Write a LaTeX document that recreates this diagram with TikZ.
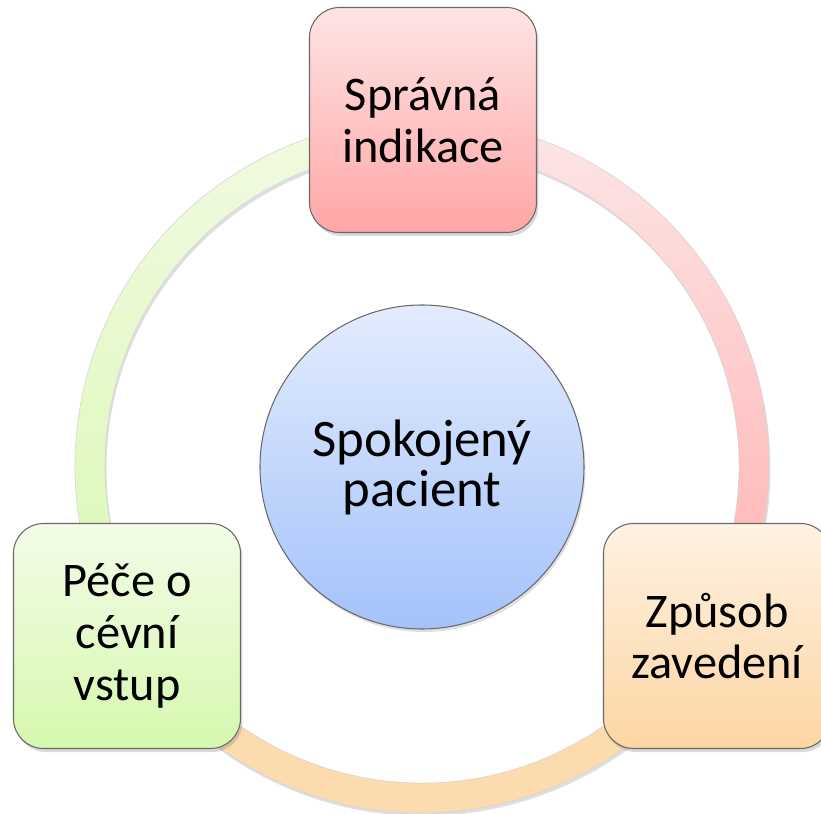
\documentclass[tikz,border=0pt]{standalone}
\usepackage{fontspec}
\setmainfont{Carlito}
\usetikzlibrary{shapes,arrows,positioning,shadows,calc}
\definecolor{redtop}{RGB}{255,228,228}
\definecolor{redbot}{RGB}{255,166,166}
\definecolor{orangetop}{RGB}{254,242,226}
\definecolor{orangebot}{RGB}{253,213,163}
\definecolor{greentop}{RGB}{243,252,232}
\definecolor{greenbot}{RGB}{214,248,174}
\definecolor{bluetop}{RGB}{227,236,253}
\definecolor{bluebot}{RGB}{164,194,250}
\definecolor{ringred}{RGB}{255,176,176}
\definecolor{ringredlight}{RGB}{253,230,230}
\definecolor{ringorange}{RGB}{252,220,174}
\definecolor{ringgreen}{RGB}{218,248,180}
\definecolor{ringgreenlight}{RGB}{241,250,225}
\definecolor{edge}{RGB}{105,105,105}

\begin{document}
\begin{tikzpicture}[
    box/.style={draw=edge, line width=0.6pt, rounded corners=0.6cm, minimum width=4.54cm, minimum height=4.5cm, align=center, font=\fontsize{27.5}{29.5}\selectfont, drop shadow={opacity=0.3, shadow xshift=0.04cm, shadow yshift=-0.07cm}},
    ring/.style={draw=gray!35, line width=0.3pt, drop shadow={opacity=0.25, shadow xshift=0.03cm, shadow yshift=-0.06cm}}
  ]
    % Rahmen des Bildes
    \useasboundingbox (-8.44,-6.96) rectangle (7.98,9.32);

    % Kreisring aus drei Bogen
    \shade[ring, top color=ringredlight, bottom color=ringred] (90:6.94) arc[start angle=90, end angle=-30, radius=6.94] -- (-30:6.34) arc[start angle=-30, end angle=90, radius=6.34] -- cycle;
    \shade[ring, top color=ringorange, bottom color=ringorange] (-30:6.94) arc[start angle=-30, end angle=-150, radius=6.94] -- (-150:6.34) arc[start angle=-150, end angle=-30, radius=6.34] -- cycle;
    \shade[ring, top color=ringgreenlight, bottom color=ringgreen] (210:6.94) arc[start angle=210, end angle=90, radius=6.94] -- (90:6.34) arc[start angle=90, end angle=210, radius=6.34] -- cycle;

    % Mitte
    \node[draw=edge, line width=0.6pt, circle, minimum size=6.48cm, top color=bluetop, bottom color=bluebot, align=center, font=\fontsize{30}{28.5}\selectfont, drop shadow={opacity=0.25, shadow xshift=0.03cm, shadow yshift=-0.06cm}] (pacient) at (0,-0.02) {Spokojený\\pacient};

    % Drei Kasten
    \node[box, top color=redtop, bottom color=redbot] (indikace) at (0.02,6.92) {Správná\\indikace};
    \node[box, top color=orangetop, bottom color=orangebot] (zavedeni) at (5.9,-3.4) {Způsob\\zavedení};
    \node[box, top color=greentop, bottom color=greenbot] (pece) at (-5.9,-3.4) {Péče o\\cévní\\vstup};
\end{tikzpicture}
\end{document}
